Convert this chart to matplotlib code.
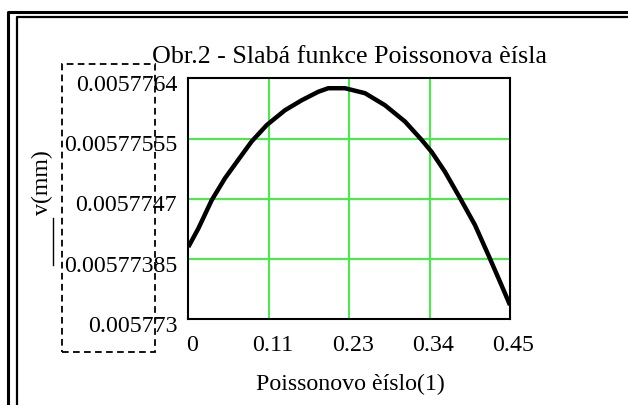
import matplotlib
matplotlib.use("Agg")
import matplotlib.pyplot as plt
from matplotlib.patches import Rectangle
from matplotlib.lines import Line2D
from matplotlib.transforms import ScaledTranslation

# Poisson ratio vs. deflection v (mm)
poisson = [0.0, 0.0140, 0.0327, 0.0513, 0.0699, 0.0887, 0.1097, 0.1353,
           0.1586, 0.1818, 0.1958, 0.2192, 0.2472, 0.2751, 0.3031, 0.3265,
           0.3405, 0.3591, 0.3801, 0.4010, 0.4196, 0.4360, 0.45]
deflection = [0.00577402, 0.00577428, 0.00577468, 0.00577499, 0.00577525,
              0.00577551, 0.00577574, 0.00577595, 0.00577609, 0.00577621,
              0.00577626, 0.00577626, 0.00577619, 0.00577602, 0.00577579,
              0.00577553, 0.00577536, 0.00577508, 0.00577471, 0.00577433,
              0.00577391, 0.00577353, 0.00577320]

x_ticks = [0.0, 0.1125, 0.225, 0.3375, 0.45]
x_tick_labels = ["0", "0.11", "0.23", "0.34", "0.45"]
y_ticks = [0.005773, 0.00577385, 0.0057747, 0.00577555, 0.0057764]
y_tick_labels = ["0.005773", "0.00577385", "0.0057747", "0.00577555", "0.0057764"]

title = "Obr.2 - Slabá funkce Poissonova èísla"
x_label = "Poissonovo èíslo(1)"
y_label = "v(mm)"

W, H, DPI = 628, 405, 100
plt.rcParams["font.family"] = ["Liberation Serif", "DejaVu Serif"]
FS = 17.2
FS_TITLE = 18.7

fig = plt.figure(figsize=(W / DPI, H / DPI), dpi=DPI)


def fx(px):
    return px / W


def fy(py):
    return 1 - py / H


# outer double frame
fig.add_artist(Line2D([fx(7.5), fx(7.5), 1], [0, fy(11.5), fy(11.5)],
                      transform=fig.transFigure, color="black", lw=2.2))
fig.add_artist(Line2D([fx(17), fx(17), 1], [0, fy(17), fy(17)],
                      transform=fig.transFigure, color="black", lw=1.6))

ax = fig.add_axes([fx(188.3), fy(319.3), fx(510) - fx(188.3), fy(78.3) - fy(319.3)])
ax.plot(poisson, deflection, color="black", lw=3.2, solid_joinstyle="round",
        solid_capstyle="butt", zorder=3)
ax.set_xlim(x_ticks[0], x_ticks[-1])
ax.set_ylim(y_ticks[0], y_ticks[-1])
ax.set_xticks(x_ticks)
ax.set_xticklabels(x_tick_labels, fontsize=FS)
ax.set_yticks(y_ticks)
ax.set_yticklabels(y_tick_labels, fontsize=FS)
ax.tick_params(length=0)
ax.tick_params(axis="y", pad=8)
ax.tick_params(axis="x", pad=11)
ax.grid(True, color="#3cf03c", lw=1.4)
for s in ax.spines.values():
    s.set_linewidth(1.5)
    s.set_color("black")
    s.set_zorder(4)

for lab in ax.get_yticklabels():
    lab.set_transform(lab.get_transform() + ScaledTranslation(0, -4.5 / DPI, fig.dpi_scale_trans))
for lab in ax.get_xticklabels():
    lab.set_transform(lab.get_transform() + ScaledTranslation(3.5 / DPI, 0, fig.dpi_scale_trans))

fig.text(fx(349), fy(57), title, fontsize=FS_TITLE, ha="center", va="center")
fig.text(fx(350), fy(384), x_label, fontsize=FS, ha="center", va="center")
fig.text(fx(42), fy(183), y_label, fontsize=FS, ha="center", va="center", rotation=90)
fig.add_artist(Line2D([fx(53), fx(53)], [fy(218), fy(265)],
                      transform=fig.transFigure, color="black", lw=1.0))

# dashed box around the value axis labels
fig.add_artist(Rectangle((fx(62), fy(352)), fx(155) - fx(62), fy(64) - fy(352),
                         transform=fig.transFigure, fill=False, edgecolor="black",
                         lw=1.3, linestyle=(0, (3.7, 2.4))))

fig.savefig("out.png", dpi=DPI)
